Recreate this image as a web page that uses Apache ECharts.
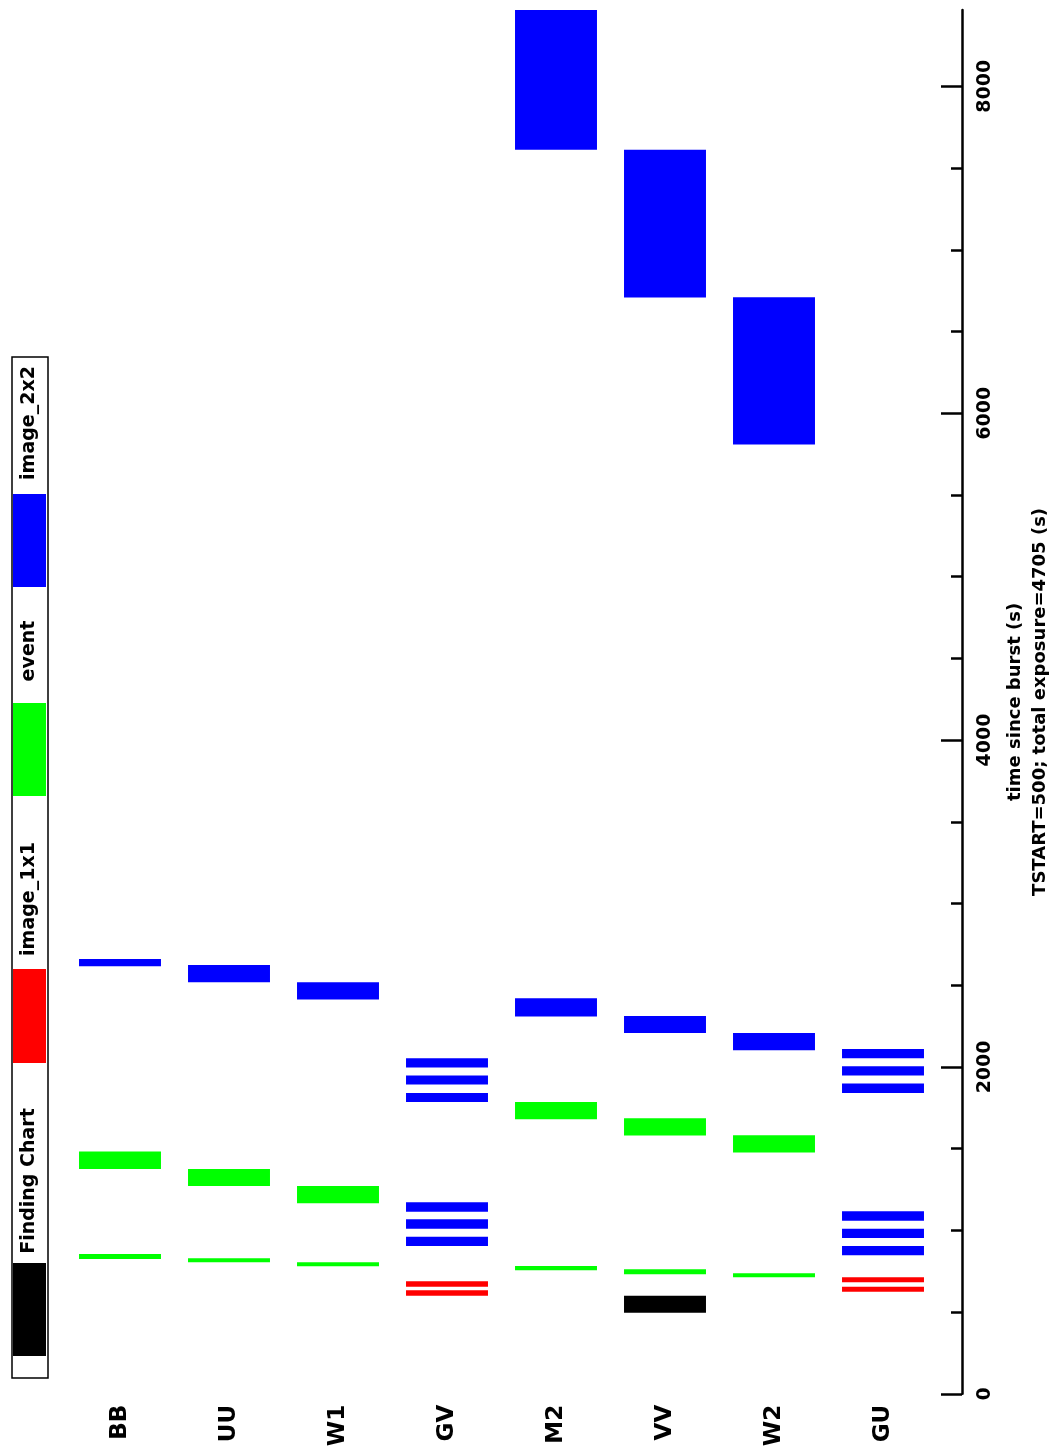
<!DOCTYPE html>
<html>
<head>
<meta charset="utf-8">
<script src="https://cdn.jsdelivr.net/npm/echarts@6/dist/echarts.min.js"></script>
<style>
html,body{margin:0;padding:0;background:#fff;}
#chart{width:1054px;height:1454px;}
</style>
</head>
<body>
<div id="chart"></div>
<script>
// ---- data ----
const categories = ['BB', 'UU', 'W1', 'GV', 'M2', 'VV', 'W2', 'GU'];
const majorTicks = [0, 2000, 4000, 6000, 8000];
const minorTicks = [500, 1000, 1500, 2500, 3000, 3500, 4500, 5000, 5500, 6500, 7000, 7500];
const axisMax = 8467;

// [filter, start (s), end (s)]
const findingChart = [['VV', 496, 600]];
const image1x1 = [
  ['GV', 600, 633], ['GV', 655, 688],
  ['GU', 625, 655], ['GU', 682, 713]
];
const eventMode = [
  ['BB', 825, 856], ['UU', 805, 829], ['W1', 780, 805], ['M2', 756, 782],
  ['VV', 731, 762], ['W2', 713, 737],
  ['BB', 1376, 1482], ['UU', 1272, 1376], ['W1', 1166, 1272], ['M2', 1680, 1786],
  ['VV', 1580, 1686], ['W2', 1476, 1582]
];
const image2x2 = [
  ['BB', 2616, 2661], ['UU', 2518, 2624], ['W1', 2412, 2518],
  ['GV', 905, 961], ['GV', 1010, 1068], ['GV', 1114, 1172],
  ['GV', 1786, 1841], ['GV', 1892, 1947], ['GV', 1996, 2053],
  ['M2', 2308, 2420], ['VV', 2208, 2312], ['W2', 2102, 2208],
  ['GU', 848, 905], ['GU', 953, 1010], ['GU', 1059, 1117],
  ['GU', 1841, 1898], ['GU', 1947, 2004], ['GU', 2053, 2110],
  ['W2', 5809, 6710], ['VV', 6708, 7612], ['M2', 7612, 8467]
];
const legendItems = ['Finding Chart', 'image_1x1', 'event', 'image_2x2'];
const legendColors = ['#000000', '#ff0000', '#00ff00', '#0000ff'];

// ---- chart ----
const FONT = 'DejaVu Sans';
function toData(arr) {
  return arr.map(d => [categories.indexOf(d[0]), d[1], d[2]]);
}
function renderItem(params, api) {
  const c = api.value(0);
  const p0 = api.coord([c, api.value(1)]);
  const p1 = api.coord([c, api.value(2)]);
  const w = api.size([1, 0])[0] * 0.752;
  return {
    type: 'rect',
    shape: { x: p0[0] - w / 2, y: p1[1], width: w, height: p0[1] - p1[1] },
    style: { fill: api.visual('color') }
  };
}
const seriesData = [findingChart, image1x1, eventMode, image2x2];
const series = seriesData.map((arr, i) => ({
  type: 'custom',
  name: legendItems[i],
  renderItem: renderItem,
  itemStyle: { color: legendColors[i] },
  encode: { x: 0, y: [1, 2] },
  data: toData(arr),
  clip: false,
  silent: true
}));

// legend drawn as graphic (rotated like the reference)
const swatchY = [[1263, 1356], [969, 1063], [703, 796], [494, 587]];
const textY = [1181, 899, 651, 423];
const graphic = [{
  type: 'rect',
  shape: { x: 12, y: 357, width: 36, height: 1021 },
  style: { fill: '#fff', stroke: '#000', lineWidth: 1.5 }
}];
legendItems.forEach((name, i) => {
  graphic.push({
    type: 'rect',
    shape: { x: 13, y: swatchY[i][0], width: 33, height: swatchY[i][1] - swatchY[i][0] },
    style: { fill: legendColors[i] }
  });
  graphic.push({
    type: 'text',
    x: 29, y: textY[i],
    rotation: Math.PI / 2,
    style: {
      text: name, font: 'bold 19px "' + FONT + '"', fill: '#000',
      textAlign: 'center', textVerticalAlign: 'middle'
    }
  });
});

const chart = echarts.init(document.getElementById('chart'));
chart.setOption({
  backgroundColor: '#ffffff',
  animation: false,
  grid: { left: 65.5, right: 116.5, top: 10, bottom: 60.2, containLabel: false, outerBoundsMode: 'none' },
  xAxis: {
    type: 'category',
    data: categories,
    axisLine: { show: false },
    axisTick: { show: false },
    splitLine: { show: false },
    axisLabel: {
      rotate: 90, margin: 11, color: '#000',
      fontFamily: FONT, fontSize: 23, fontWeight: 'bold'
    }
  },
  yAxis: [{
    type: 'value',
    position: 'right',
    offset: 24.5,
    min: 0, max: axisMax,
    interval: 2000,
    name: 'time since burst (s)\nTSTART=500; total exposure=4705 (s)',
    nameLocation: 'middle',
    nameRotate: 90,
    nameGap: 31,
    nameTextStyle: { color: '#000', fontFamily: FONT, fontSize: 18, fontWeight: 'bold', lineHeight: 25 },
    axisLine: { show: true, lineStyle: { color: '#000', width: 2.5 } },
    axisTick: { show: true, inside: true, length: 21, lineStyle: { color: '#000', width: 2.5 }, customValues: majorTicks },
    axisLabel: {
      rotate: 90, margin: 14, color: '#000', fontFamily: FONT, fontSize: 19, fontWeight: 'bold',
      customValues: majorTicks, formatter: v => String(v)
    },
    splitLine: { show: false }
  }, {
    type: 'value',
    position: 'right',
    offset: 24.5,
    min: 0, max: axisMax,
    interval: 2000,
    axisLine: { show: false },
    axisTick: { show: true, inside: true, length: 11, lineStyle: { color: '#000', width: 2.5 }, customValues: minorTicks },
    axisLabel: { show: false },
    splitLine: { show: false }
  }],
  graphic: graphic,
  series: series
});
</script>
</body>
</html>
